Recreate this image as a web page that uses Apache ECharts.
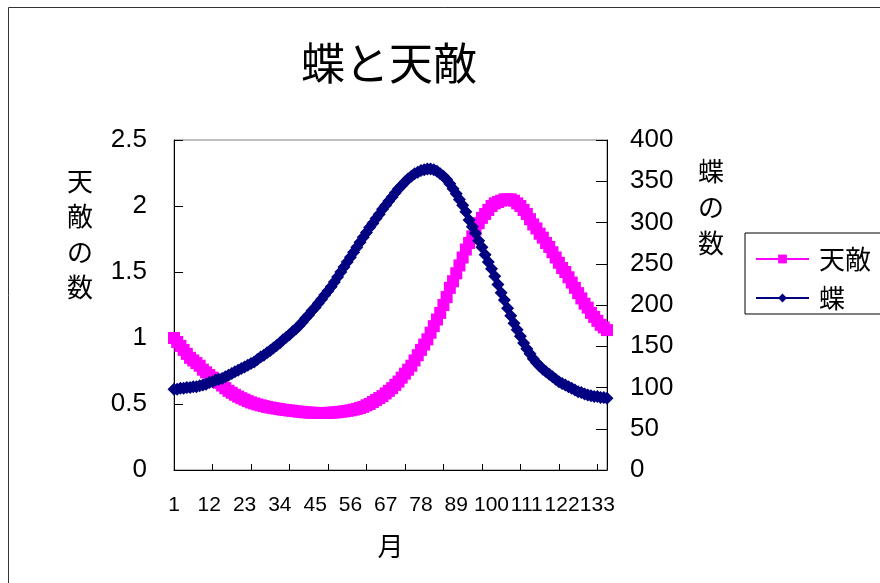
<!DOCTYPE html>
<html>
<head>
<meta charset="utf-8">
<script src="https://cdn.jsdelivr.net/npm/echarts@6/dist/echarts.min.js"></script>
<style>
html,body{margin:0;padding:0;background:#fff;}
#chart{width:880px;height:583px;}
</style>
</head>
<body>
<div id="chart"></div>
<script>
// ---- data ----
const months = [
  "1","2","3","4","5","6","7","8","9","10","11","12","13","14","15","16","17","18","19","20",
  "21","22","23","24","25","26","27","28","29","30","31","32","33","34","35","36","37","38","39","40",
  "41","42","43","44","45","46","47","48","49","50","51","52","53","54","55","56","57","58","59","60",
  "61","62","63","64","65","66","67","68","69","70","71","72","73","74","75","76","77","78","79","80",
  "81","82","83","84","85","86","87","88","89","90","91","92","93","94","95","96","97","98","99","100",
  "101","102","103","104","105","106","107","108","109","110","111","112","113","114","115","116","117","118","119","120",
  "121","122","123","124","125","126","127","128","129","130","131","132","133","134","135","136"
];
const predators = [
  1.00,0.97,0.94,0.91,0.88,0.85,0.83,0.81,0.79,0.76,
  0.74,0.72,0.70,0.68,0.66,0.64,0.62,0.60,0.585,0.57,
  0.556,0.544,0.533,0.522,0.512,0.504,0.497,0.49,0.484,0.478,
  0.473,0.469,0.465,0.461,0.457,0.454,0.451,0.448,0.445,0.442,
  0.44,0.437,0.435,0.434,0.433,0.432,0.432,0.432,0.433,0.434,
  0.436,0.438,0.441,0.444,0.448,0.452,0.457,0.463,0.47,0.478,
  0.49,0.50,0.515,0.53,0.545,0.56,0.58,0.60,0.62,0.645,
  0.67,0.70,0.73,0.76,0.79,0.83,0.87,0.91,0.95,0.99,
  1.04,1.09,1.14,1.19,1.25,1.31,1.38,1.43,1.49,1.55,
  1.61,1.67,1.72,1.77,1.82,1.87,1.91,1.94,1.97,2.00,
  2.02,2.03,2.04,2.05,2.05,2.05,2.04,2.02,2.00,1.97,
  1.94,1.90,1.86,1.83,1.79,1.76,1.72,1.69,1.65,1.61,
  1.57,1.53,1.50,1.46,1.42,1.38,1.34,1.30,1.26,1.23,
  1.19,1.16,1.13,1.10,1.08,1.06
];
const butterflies = [
  98,98,99,99,100,100,101,101,102,103,
  104,106,107,109,110,111,113,115,117,119,
  121,123,125,127,129,131,134,137,139,142,
  145,148,151,154,158,161,164,168,171,175,
  179,184,188,193,197,202,207,212,217,222,
  228,234,240,246,252,258,264,270,276,282,
  288,294,299,305,310,316,321,326,331,336,
  341,345,349,353,356,359,361,363,364,365,
  365,364,362,359,356,352,347,341,335,328,
  321,313,303,295,287,278,270,261,252,244,
  235,225,215,206,196,187,178,170,162,154,
  147,141,135,130,126,122,119,116,113,110,
  107,105,103,101,99,97,95,94,92,91,
  90,89,89,88,88,87
];
const seriesNames = ["天敵", "蝶"];
const titleText = "蝶と天敵";
const xAxisName = "月";
const leftAxisName = "天敵の数";
const rightAxisName = "蝶の数";
const leftAxisRange = [0, 2.5, 0.5];
const rightAxisRange = [0, 400, 50];

// ---- chart ----
const FONT = "'Liberation Sans', 'Noto Sans CJK JP', sans-serif";
const CJK = "'Noto Sans CJK JP', sans-serif";
const chart = echarts.init(document.getElementById('chart'), null, {renderer: 'canvas'});
const stack = s => s.split('').join('\n');

chart.setOption({
  animation: false,
  backgroundColor: '#ffffff',
  textStyle: {fontFamily: FONT, color: '#000'},
  graphic: [{
    type: 'rect', z: -10, silent: true,
    shape: {x: 8.5, y: 7.5, width: 2000, height: 2000},
    style: {fill: 'none', stroke: '#333333', lineWidth: 1}
  }],
  title: {
    text: titleText,
    left: 301, top: 41,
    padding: 0,
    textStyle: {fontFamily: CJK, fontSize: 44, fontWeight: 'normal', color: '#000'}
  },
  legend: {
    orient: 'vertical',
    left: 745, top: 233,
    padding: [13, 40, 3, 10],
    itemGap: 13,
    itemWidth: 53, itemHeight: 11,
    borderColor: '#000', borderWidth: 1,
    backgroundColor: '#fff',
    textStyle: {fontFamily: CJK, fontSize: 26, lineHeight: 26, color: '#000', padding: [0, 0, 0, 5]},
    data: seriesNames
  },
  grid: {
    left: 174, top: 140, width: 433, height: 330,
    show: true, borderColor: '#808080', borderWidth: 1, backgroundColor: 'transparent'
  },
  xAxis: {
    type: 'category',
    data: months,
    boundaryGap: false,
    name: xAxisName,
    nameLocation: 'middle',
    nameGap: 63,
    nameTextStyle: {fontFamily: CJK, fontSize: 26, color: '#000'},
    axisLine: {show: true, lineStyle: {color: '#000', width: 1}},
    axisTick: {show: true, inside: true, length: 6, interval: 11, lineStyle: {color: '#000'}},
    axisLabel: {interval: 10, margin: 25, fontSize: 21, color: '#000', fontFamily: FONT},
    splitLine: {show: false}
  },
  yAxis: [{
    type: 'value',
    position: 'left',
    min: leftAxisRange[0], max: leftAxisRange[1], interval: leftAxisRange[2],
    name: stack(leftAxisName),
    nameLocation: 'middle',
    nameRotate: 0,
    nameGap: 81,
    nameTextStyle: {fontFamily: CJK, fontSize: 26, lineHeight: 35.5, color: '#000', verticalAlign: 'bottom'},
    axisLine: {show: true, lineStyle: {color: '#000', width: 1}},
    axisTick: {show: true, inside: true, length: 9, lineStyle: {color: '#000'}},
    axisLabel: {margin: 27, fontSize: 26, color: '#000', fontFamily: FONT},
    splitLine: {show: false}
  }, {
    type: 'value',
    position: 'right',
    min: rightAxisRange[0], max: rightAxisRange[1], interval: rightAxisRange[2],
    name: stack(rightAxisName) + '\n',
    nameLocation: 'middle',
    nameRotate: 0,
    nameGap: 91,
    nameTextStyle: {fontFamily: CJK, fontSize: 26, lineHeight: 36, color: '#000', verticalAlign: 'bottom', padding: [0, 0, 8, 0]},
    axisLine: {show: true, lineStyle: {color: '#000', width: 1}},
    axisTick: {show: true, inside: true, length: 11, lineStyle: {color: '#000'}},
    axisLabel: {margin: 23, fontSize: 26, color: '#000', fontFamily: FONT},
    splitLine: {show: false}
  }],
  series: [{
    name: seriesNames[0],
    type: 'line',
    yAxisIndex: 0,
    data: predators,
    symbol: 'rect',
    symbolSize: 12,
    showSymbol: true,
    showAllSymbol: true,
    color: '#FF00FF',
    lineStyle: {color: '#FF00FF', width: 1.5},
    itemStyle: {color: '#FF00FF', borderWidth: 0}
  }, {
    name: seriesNames[1],
    type: 'line',
    yAxisIndex: 1,
    data: butterflies,
    symbol: 'diamond',
    symbolSize: 13,
    showSymbol: true,
    showAllSymbol: true,
    color: '#000080',
    lineStyle: {color: '#000080', width: 1.5},
    itemStyle: {color: '#000080', borderWidth: 0}
  }]
});
</script>
</body>
</html>
